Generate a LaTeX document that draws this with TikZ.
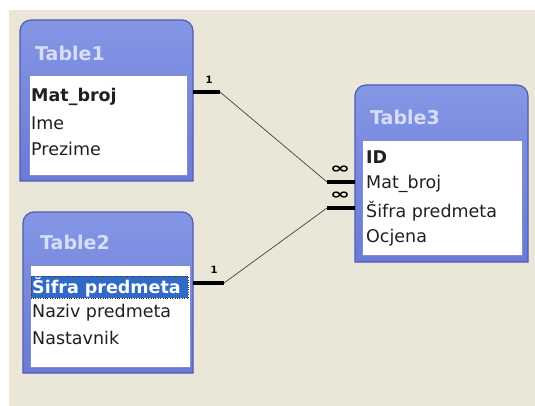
\documentclass[tikz,border=0pt]{standalone}
\usepackage{fontspec}
\usepackage{graphicx}
\setmainfont{DejaVu Sans}
\definecolor{bgbeige}{HTML}{EAE7D8}
\definecolor{frametop}{HTML}{8496E4}
\definecolor{framebot}{HTML}{6A7AD6}
\definecolor{frameedge}{HTML}{4E5CB4}
\definecolor{titletxt}{HTML}{D6DEFA}
\definecolor{fieldtxt}{HTML}{202020}
\definecolor{selblue}{HTML}{3169C6}
\tikzset{
  frame/.style={top color=frametop, bottom color=framebot, draw=frameedge, line width=1.2pt},
  inner/.style={fill=white, draw=frameedge!70, line width=0.8pt},
  ttl/.style={anchor=west, inner sep=0pt, text=titletxt, font=\fontsize{19}{20}\selectfont\bfseries},
  fld/.style={anchor=west, inner sep=0pt, text=fieldtxt, font=\fontsize{17.5}{19}\selectfont},
  keyfld/.style={fld, font=\fontsize{17.5}{19}\selectfont\bfseries},
  selfld/.style={fld, text=white, font=\fontsize{17.5}{19}\selectfont\bfseries},
  bar/.style={line width=4pt, black, line cap=butt},
  rel/.style={line width=0.7pt, black!75},
  card/.style={inner sep=0pt, font=\fontsize{10}{10}\selectfont\bfseries},
  many/.style={inner sep=0pt, font=\fontsize{15}{15}\selectfont\bfseries},
}
\newcommand{\wideinf}{\scalebox{1.6}[1]{∞}}
\begin{document}
\begin{tikzpicture}[x=1pt,y=-1pt]
\useasboundingbox (0,0) rectangle (535,406);
\fill[white] (0,0) rectangle (535,406);
\fill[bgbeige] (9,10) rectangle (535,406);

% Table1
\shadedraw[frame] (20,181) [rounded corners=11] -- (20,20) -- (193,20) [sharp corners] -- (193,181) -- cycle;
\draw[inner] (29,75) rectangle (187,175);
\node[ttl] (t1) at (35,53) {Table1};
\node[keyfld] (t1a) at (31,97) {Mat\_broj};
\node[fld] (t1b) at (31,123) {Ime};
\node[fld] (t1c) at (31,149) {Prezime};

% Table2
\shadedraw[frame] (23,373) [rounded corners=11] -- (23,212) -- (193,212) [sharp corners] -- (193,373) -- cycle;
\draw[inner] (30,265) rectangle (190,367);
\node[ttl] (t2) at (40,242) {Table2};
\fill[selblue] (31,276) rectangle (188,298);
\draw[dotted, black!80] (31,276) rectangle (188,298);
\node[selfld] (t2a) at (32,287) {Šifra predmeta};
\node[fld] (t2b) at (32,313) {Naziv predmeta};
\node[fld] (t2c) at (32,338) {Nastavnik};

% Table3
\shadedraw[frame] (355,262) [rounded corners=11] -- (355,85) -- (528,85) [sharp corners] -- (528,262) -- cycle;
\draw[inner] (362,140) rectangle (522,255);
\node[ttl] (t3) at (370,117) {Table3};
\node[keyfld] (t3a) at (366,157) {ID};
\node[fld] (t3b) at (366,184) {Mat\_broj};
\node[fld] (t3c) at (366,211) {Šifra predmeta};
\node[fld] (t3d) at (366,238) {Ocjena};

% relationship 1
\coordinate (r1a) at (193,92);
\coordinate (r1b) at (220,92);
\coordinate (r1c) at (327,182);
\coordinate (r1d) at (355,182);
\draw[bar] (r1a) -- (r1b);
\draw[rel] (r1b) -- (r1c);
\draw[bar] (r1c) -- (r1d);
\node[card] (c1) at (209,80) {1};
\node[many] (m1) at (340,170) {\wideinf};

% relationship 2
\coordinate (r2a) at (193,283);
\coordinate (r2b) at (224,283);
\coordinate (r2c) at (327,208);
\coordinate (r2d) at (355,208);
\draw[bar] (r2a) -- (r2b);
\draw[rel] (r2b) -- (r2c);
\draw[bar] (r2c) -- (r2d);
\node[card] (c2) at (214,270) {1};
\node[many] (m2) at (340,196) {\wideinf};
\end{tikzpicture}
\end{document}
